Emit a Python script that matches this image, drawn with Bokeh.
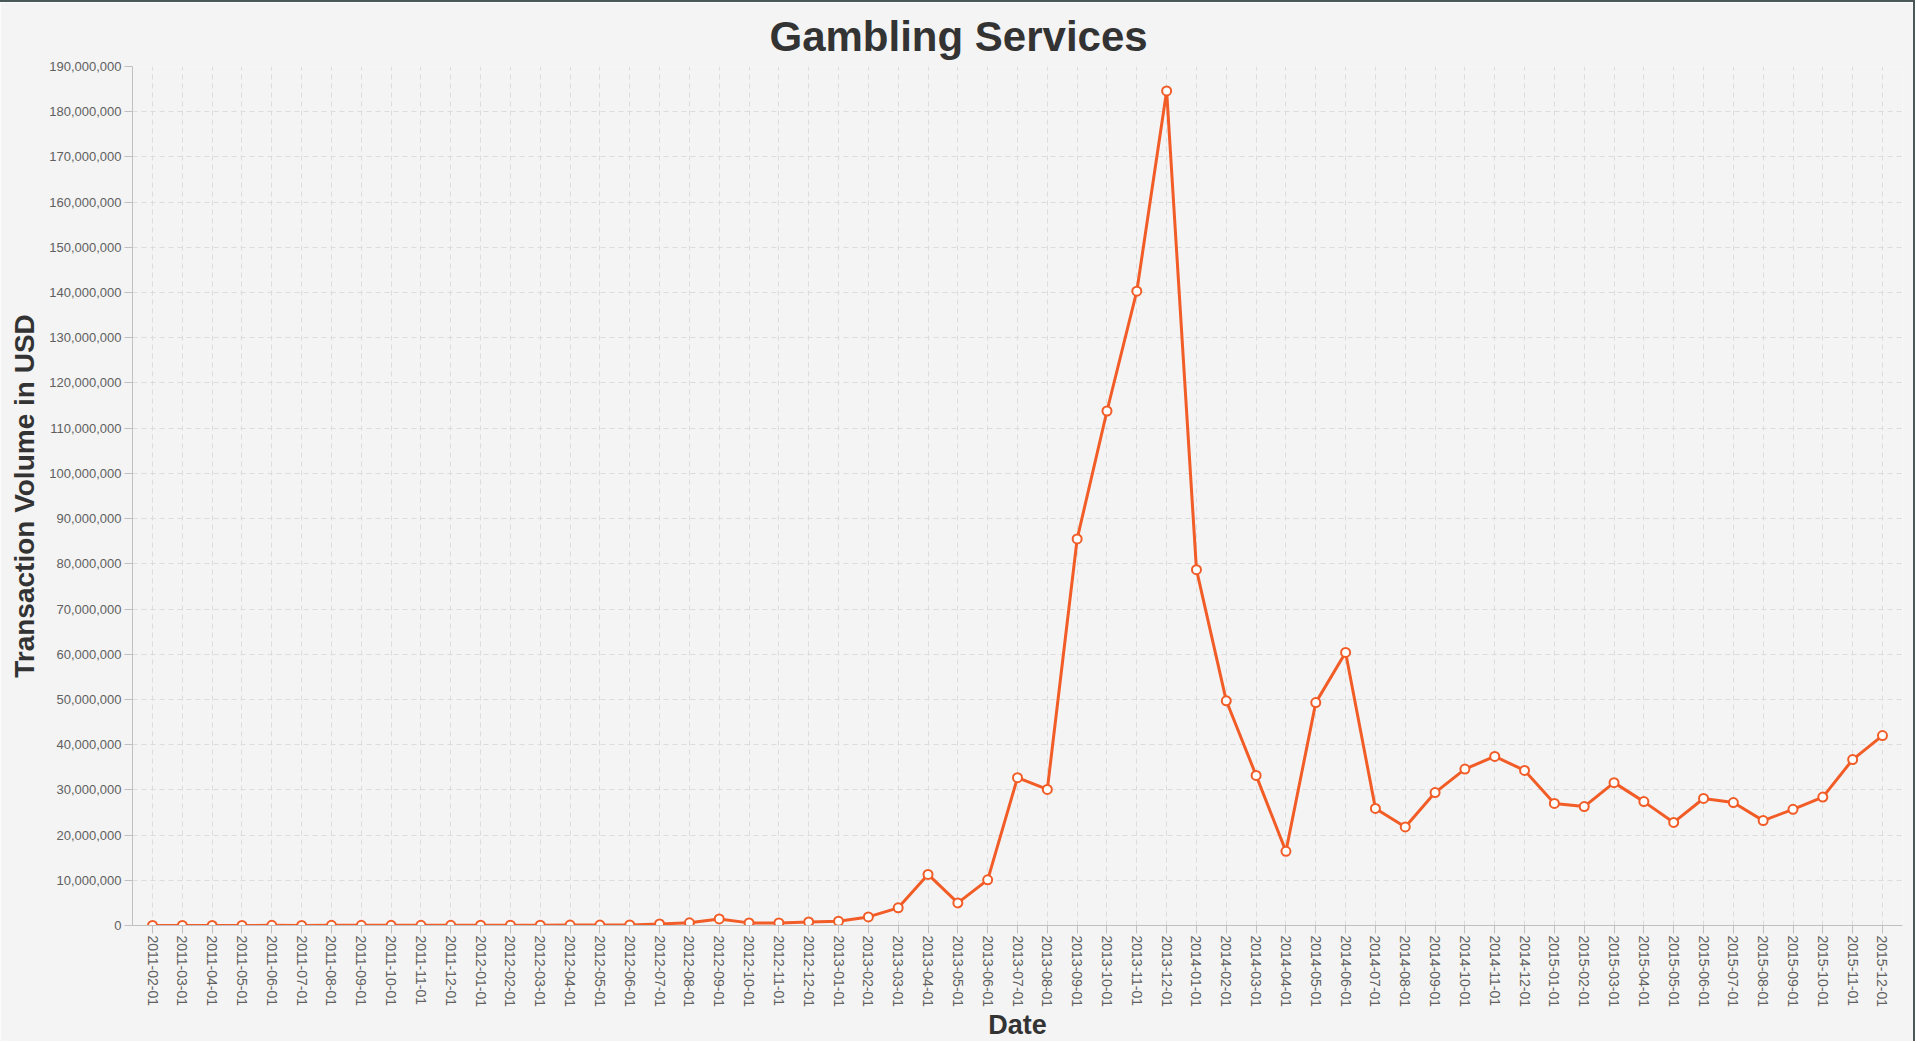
import math
from bokeh.plotting import figure
from bokeh.models import FactorRange, Range1d, NumeralTickFormatter, SingleIntervalTicker, ColumnDataSource
from bokeh.embed import file_html
from bokeh.resources import INLINE

dates = [
    "2011-02-01", "2011-03-01", "2011-04-01", "2011-05-01", "2011-06-01", "2011-07-01",
    "2011-08-01", "2011-09-01", "2011-10-01", "2011-11-01", "2011-12-01",
    "2012-01-01", "2012-02-01", "2012-03-01", "2012-04-01", "2012-05-01", "2012-06-01",
    "2012-07-01", "2012-08-01", "2012-09-01", "2012-10-01", "2012-11-01", "2012-12-01",
    "2013-01-01", "2013-02-01", "2013-03-01", "2013-04-01", "2013-05-01", "2013-06-01",
    "2013-07-01", "2013-08-01", "2013-09-01", "2013-10-01", "2013-11-01", "2013-12-01",
    "2014-01-01", "2014-02-01", "2014-03-01", "2014-04-01", "2014-05-01", "2014-06-01",
    "2014-07-01", "2014-08-01", "2014-09-01", "2014-10-01", "2014-11-01", "2014-12-01",
    "2015-01-01", "2015-02-01", "2015-03-01", "2015-04-01", "2015-05-01", "2015-06-01",
    "2015-07-01", "2015-08-01", "2015-09-01", "2015-10-01", "2015-11-01", "2015-12-01",
]

volumes = [
    20000, 15000, 20000, 25000, 30000, 25000,
    30000, 35000, 40000, 45000, 50000,
    60000, 70000, 80000, 90000, 100000, 120000,
    350000, 600000, 1450000, 580000, 560000, 800000,
    950000, 1900000, 3900000, 11300000, 5000000, 10100000,
    32700000, 30100000, 85500000, 113800000, 140300000, 184600000,
    78700000, 49700000, 33200000, 16400000, 49300000, 60400000,
    25900000, 21800000, 29400000, 34600000, 37400000, 34300000,
    27000000, 26300000, 31600000, 27400000, 22800000, 28100000,
    27200000, 23200000, 25700000, 28400000, 36700000, 42000000,
]

title_text = "Gambling Services"
x_label = "Date"
y_label = "Transaction Volume in USD"

BG = "#f4f4f4"
LINE = "#f25c27"
FONT = "Liberation Sans"

src = ColumnDataSource(dict(date=dates, volume=volumes))

p = figure(
    width=1915, height=1041,
    x_range=FactorRange(factors=dates, range_padding=0.0058),
    y_range=Range1d(0, 190000000),
    output_backend="svg", toolbar_location=None,
    background_fill_color=BG, border_fill_color=BG,
    min_border_left=132, min_border_right=13, min_border_top=64, min_border_bottom=10,
    title=title_text,
)
p.styles = {"border-top": "2px solid #4a5858", "border-right": "2px solid #4a5858"}
p.outline_line_color = None

p.title.text_font = FONT
p.title.text_font_size = "42px"
p.title.text_font_style = "bold"
p.title.text_color = "#333333"
p.title.align = "left"
p.title.offset = 637
p.title.standoff = 14

p.line("date", "volume", source=src, line_color=LINE, line_width=3)
p.scatter("date", "volume", source=src, size=9, marker="circle",
          fill_color="white", line_color=LINE, line_width=2)

# y axis
ya = p.yaxis[0]
ya.ticker = SingleIntervalTicker(interval=10000000)
ya.formatter = NumeralTickFormatter(format="0,0")
ya.axis_label = y_label
ya.axis_label_text_font = FONT
ya.axis_label_text_font_size = "28px"
ya.axis_label_text_font_style = "bold"
ya.axis_label_text_color = "#333333"
ya.axis_label_standoff = 6
ya.major_label_text_font = FONT
ya.major_label_text_font_size = "13px"
ya.major_label_text_color = "#606060"
ya.major_label_standoff = 3
ya.major_tick_out = 8
ya.major_tick_in = 0
ya.minor_tick_out = 0
ya.minor_tick_in = 0
ya.axis_line_color = "#c0c0c0"
ya.major_tick_line_color = "#c0c0c0"

# x axis
xa = p.xaxis[0]
xa.axis_label = x_label
xa.axis_label_text_font = FONT
xa.axis_label_text_font_size = "27px"
xa.axis_label_text_font_style = "bold"
xa.axis_label_text_color = "#333333"
xa.axis_label_standoff = 0
xa.major_label_text_font = FONT
xa.major_label_text_font_size = "14px"
xa.major_label_text_color = "#606060"
xa.major_label_orientation = -math.pi / 2
xa.major_label_standoff = 2
xa.major_tick_out = 8
xa.major_tick_in = 0
xa.axis_line_color = "#c0c0c0"
xa.major_tick_line_color = "#c0c0c0"

for g in (p.xgrid[0], p.ygrid[0]):
    g.grid_line_color = "#dcdcdc"
    g.grid_line_dash = "5 4"
    g.grid_line_width = 1

open("out.html", "w").write(file_html(p, INLINE))
